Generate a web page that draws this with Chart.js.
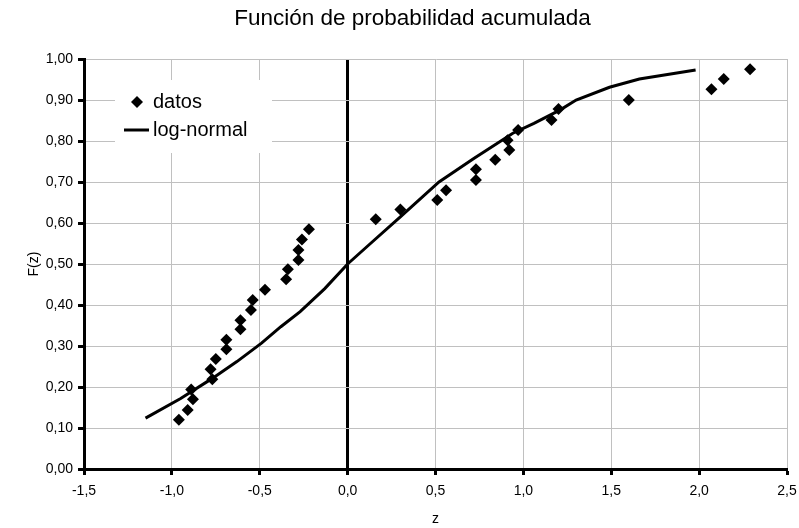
<!DOCTYPE html>
<html>
<head>
<meta charset="utf-8">
<title>Función de probabilidad acumulada</title>
<script src="https://cdn.jsdelivr.net/npm/chart.js@4.4.0/dist/chart.umd.min.js"></script>
<style>
  html, body { margin: 0; padding: 0; background: #fff; }
  #chart { display: block; }
</style>
</head>
<body>
<canvas id="chart" width="799" height="528"></canvas>
<script>
// values
let datosZ = [-0.96, -0.91, -0.88, -0.89, -0.77, -0.78, -0.75, -0.69, -0.69, -0.61, -0.61, -0.55,
              -0.54, -0.47, -0.35, -0.34, -0.28, -0.28, -0.26, -0.22, 0.16, 0.30, 0.51, 0.56,
              0.73, 0.73, 0.84, 0.92, 0.91, 0.97, 1.16, 1.20, 1.60, 2.07, 2.14, 2.29];
let datosF = [0.120, 0.144, 0.170, 0.194, 0.219, 0.243, 0.268, 0.292, 0.315, 0.341, 0.363, 0.388,
              0.412, 0.437, 0.463, 0.487, 0.510, 0.534, 0.560, 0.585, 0.609, 0.633, 0.656, 0.680,
              0.705, 0.731, 0.754, 0.778, 0.802, 0.827, 0.851, 0.878, 0.900, 0.926, 0.951, 0.975];

let logZ = [-1.15, -0.95, -0.77, -0.63, -0.49, -0.38, -0.27, -0.13, 0.00, 0.13, 0.30, 0.52,
            0.72, 0.94, 1.06, 1.21, 1.30, 1.49, 1.66, 1.98];
let logF = [0.124, 0.172, 0.221, 0.262, 0.307, 0.347, 0.384, 0.440, 0.500, 0.550, 0.615, 0.700,
            0.758, 0.819, 0.843, 0.876, 0.900, 0.931, 0.951, 0.973];

let xTickLabels = ['-1,5', '-1,0', '-0,5', '0,0', '0,5', '1,0', '1,5', '2,0', '2,5'];
let yTickLabels = ['0,00', '0,10', '0,20', '0,30', '0,40', '0,50', '0,60', '0,70', '0,80', '0,90', '1,00'];

let fontFamily = "'Liberation Sans', Arial, sans-serif";

function toPoints(xs, ys)
{
    let pts = [];
    for (let i = 0; i < xs.length; i++) {
        pts.push({ x: xs[i], y: ys[i] });
    }
    return pts;
}

// legend drawn inside the plot, white box over the grid
let legendInside = {
    id: 'legendInside',
    afterDraw(chart)
    {
        let ctx = chart.ctx;
        let area = chart.chartArea;
        let left = area.left + 31;
        let top = area.top + 21;

        ctx.save();
        ctx.fillStyle = '#ffffff';
        ctx.fillRect(left, top, 157, 73);

        // datos: diamond
        let cx = left + 22, cy = top + 22, r = 6;
        ctx.fillStyle = '#000';
        ctx.beginPath();
        ctx.moveTo(cx, cy - r);
        ctx.lineTo(cx + r, cy);
        ctx.lineTo(cx, cy + r);
        ctx.lineTo(cx - r, cy);
        ctx.closePath();
        ctx.fill();

        // log-normal: line
        ctx.strokeStyle = '#000';
        ctx.lineWidth = 3;
        ctx.beginPath();
        ctx.moveTo(left + 9, top + 50);
        ctx.lineTo(left + 34, top + 50);
        ctx.stroke();

        ctx.font = '20px ' + fontFamily;
        ctx.textBaseline = 'middle';
        ctx.textAlign = 'left';
        ctx.fillText(chart.data.datasets[0].label, left + 38, cy);
        ctx.fillText(chart.data.datasets[1].label, left + 38, top + 50);
        ctx.restore();
    }
};

function drawChart()
{
    let el = document.getElementById('chart').getContext('2d');

    new Chart(el, {
        type: 'scatter',
        data: {
            datasets: [
                {
                    label: 'datos',
                    data: toPoints(datosZ, datosF),
                    showLine: false,
                    pointStyle: 'rectRot',
                    pointRadius: 6,
                    pointBorderWidth: 0,
                    backgroundColor: '#000',
                    borderColor: '#000'
                },
                {
                    label: 'log-normal',
                    data: toPoints(logZ, logF),
                    showLine: true,
                    pointRadius: 0,
                    borderWidth: 3,
                    borderColor: '#000',
                    backgroundColor: '#000',
                    tension: 0
                }
            ]
        },
        options: {
            responsive: false,
            animation: false,
            devicePixelRatio: 1,
            layout: { padding: { left: 26, right: 0, top: 0, bottom: 0 } },
            plugins: {
                legend: { display: false },
                tooltip: { enabled: false },
                title: {
                    display: true,
                    text: 'Función de probabilidad acumulada',
                    color: '#000',
                    font: { family: fontFamily, size: 22.5, weight: 'normal' },
                    padding: { top: 5, bottom: 27 }
                }
            },
            scales: {
                x: {
                    type: 'linear',
                    min: -1.5,
                    max: 2.5,
                    afterFit: function(scale) {
                        scale.height = 59;
                        scale.paddingLeft = 12;
                        scale.paddingRight = 12;
                    },
                    ticks: {
                        stepSize: 0.5,
                        color: '#000',
                        padding: 8,
                        maxRotation: 0,
                        font: { family: fontFamily, size: 14 },
                        callback: function(value, index) { return xTickLabels[index]; }
                    },
                    grid: {
                        color: function(c) { return c.tick && c.tick.value === 0 ? '#000' : '#c0c0c0'; },
                        lineWidth: function(c) { return c.tick && c.tick.value === 0 ? 3 : 1; },
                        tickColor: '#000',
                        tickWidth: 3,
                        tickLength: 6
                    },
                    border: { color: '#000', width: 3 },
                    title: {
                        display: true,
                        text: 'z',
                        color: '#000',
                        font: { family: fontFamily, size: 14 },
                        padding: { top: 0, bottom: 0 }
                    }
                },
                y: {
                    type: 'linear',
                    min: 0,
                    max: 1,
                    afterFit: function(scale) { scale.width = 58; },
                    ticks: {
                        stepSize: 0.1,
                        color: '#000',
                        padding: 5,
                        font: { family: fontFamily, size: 14 },
                        callback: function(value, index) { return yTickLabels[index]; }
                    },
                    grid: {
                        color: '#c0c0c0',
                        lineWidth: 1,
                        tickColor: '#000',
                        tickWidth: 3,
                        tickLength: 6
                    },
                    border: { color: '#000', width: 3 },
                    title: {
                        display: true,
                        text: 'F(z)',
                        color: '#000',
                        font: { family: fontFamily, size: 14 },
                        padding: { top: 0, bottom: 0 }
                    }
                }
            }
        },
        plugins: [legendInside]
    });
}

drawChart();
</script>
</body>
</html>
